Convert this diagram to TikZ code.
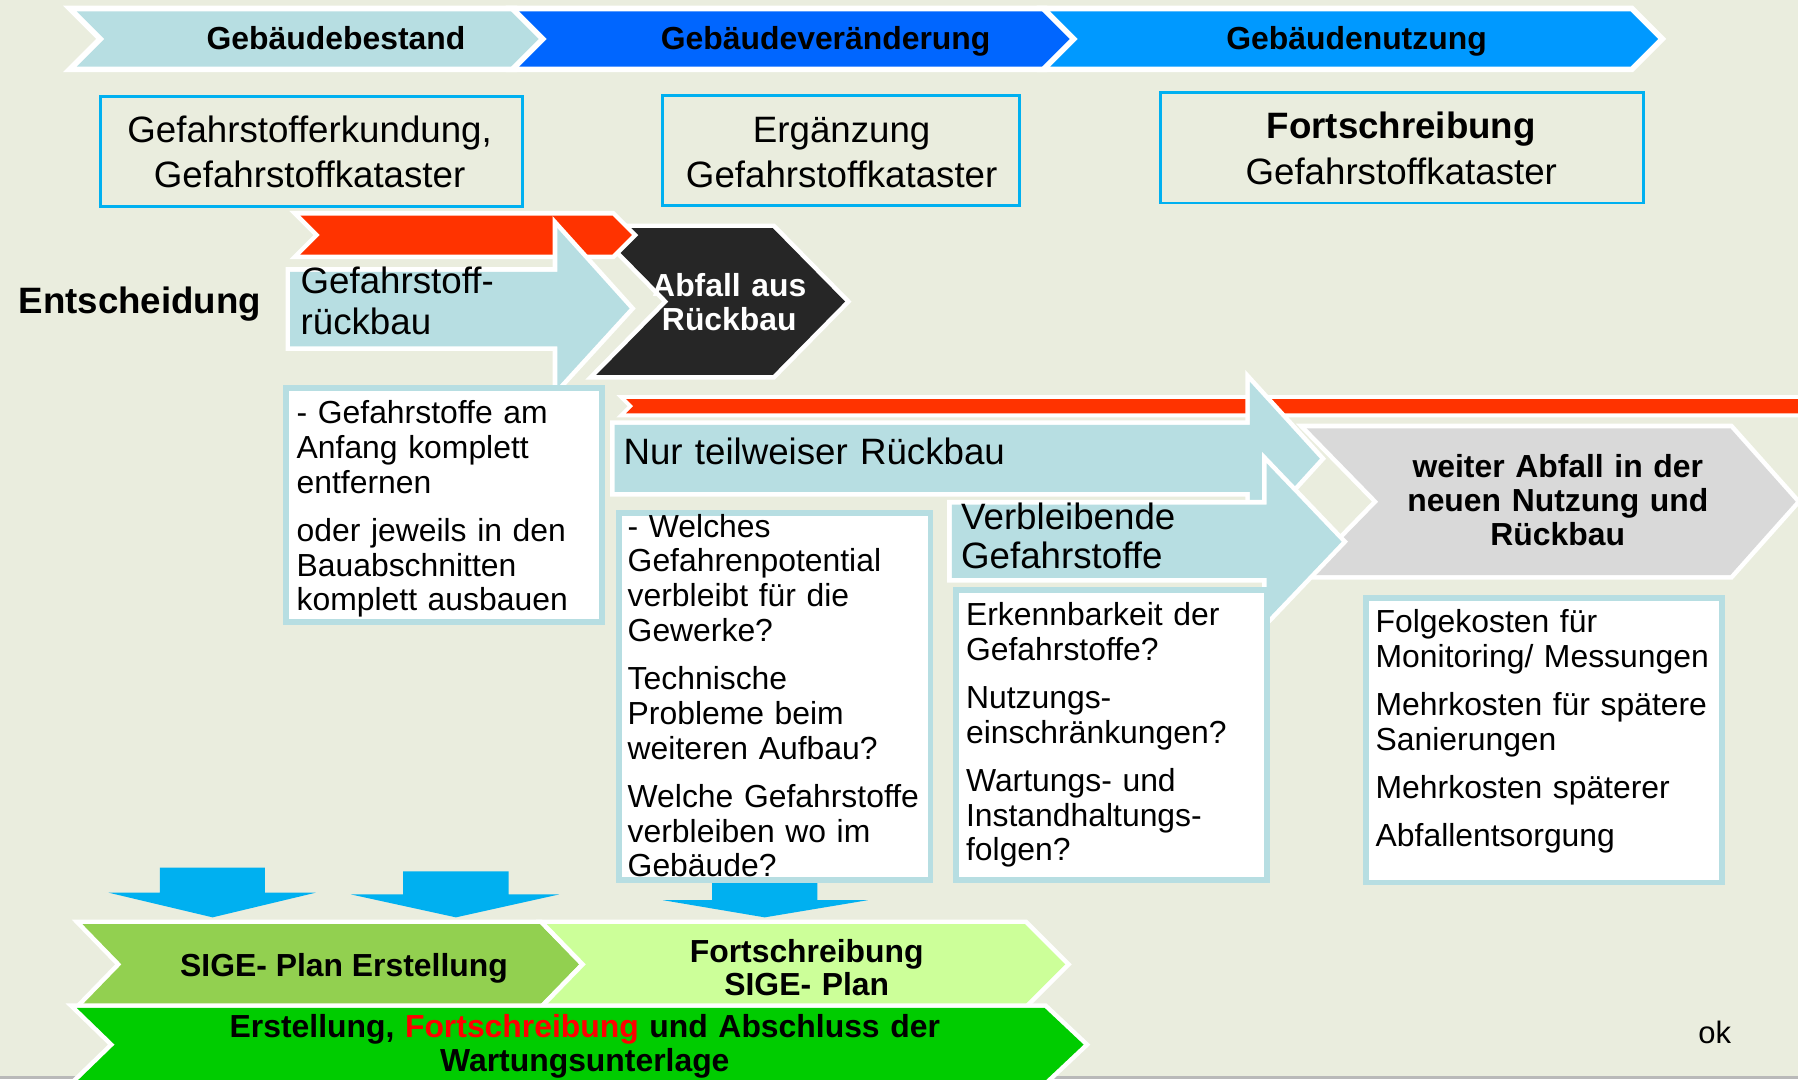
\documentclass[tikz,border=0pt]{standalone}
\usepackage{fontspec}
\setmainfont{Liberation Sans}
\definecolor{bg}{RGB}{234,237,222}
\definecolor{lblue}{RGB}{183,222,226}
\definecolor{cblue}{RGB}{0,102,255}
\definecolor{sblue}{RGB}{0,153,255}
\definecolor{redbar}{RGB}{255,51,0}
\definecolor{dark}{RGB}{38,38,38}
\definecolor{grayc}{RGB}{217,217,217}
\definecolor{greenA}{RGB}{146,208,80}
\definecolor{greenB}{RGB}{204,255,153}
\definecolor{greenC}{RGB}{0,204,0}
\definecolor{arrblue}{RGB}{0,176,240}
\definecolor{framec}{RGB}{0,176,240}
\definecolor{redtext}{RGB}{255,0,0}
\tikzset{
  wsh/.style={preaction={draw=white,line width=#1}},
  wsh/.default=8,
  topbox/.style={draw=framec,line width=2.5},
  txtbox/.style={draw=lblue,line width=5,fill=white},
  ltext/.style={inner sep=0pt,anchor=base west,text width=#1,align=left},
  ltext/.default=420,
  ctext/.style={inner sep=0pt,anchor=base,text width=#1,align=center},
  ctext/.default=420,
  fbig/.style={font=\fontsize{32}{39.3}\selectfont},
  fmid/.style={font=\fontsize{27.8}{30.3}\selectfont},
  fmidb/.style={font=\bfseries\fontsize{27.8}{29.8}\selectfont},
}
\begin{document}
\begin{tikzpicture}[x=1pt,y=-1pt]
\useasboundingbox (0,0) rectangle (1568,941);
\clip (0,0) rectangle (1568,941);
\fill[bg] (0,0) rectangle (1568,941);
\fill[gray!55] (0,938.5) rectangle (1568,941);

% top phase chevrons
\path[wsh=10,fill=lblue] (67,10) -- (449,10) -- (474,34) -- (449,58) -- (67,58) -- (91,34) -- cycle;
\path[wsh=10,fill=cblue] (453,10) -- (911,10) -- (935,34) -- (911,58) -- (453,58) -- (477,34) -- cycle;
\path[wsh=10,fill=sblue] (916,10) -- (1422,10) -- (1446,34) -- (1422,58) -- (916,58) -- (940,34) -- cycle;
\node[inner sep=0pt,anchor=base,fmidb] (p1) at (293,43) {Gebäudebestand};
\node[inner sep=0pt,anchor=base,fmidb] (p2) at (720,43) {Gebäudeveränderung};
\node[inner sep=0pt,anchor=base,fmidb] (p3) at (1183,43) {Gebäudenutzung};

% top boxes
\draw[topbox] (88,84) rectangle (456,180);
\draw[topbox] (578,83) rectangle (889,179);
\draw[topbox] (1012,81) rectangle (1433,177);
\node[ctext=400,fbig] (t1) at (270,124) {Gefahrstofferkundung,\\Gefahrstoffkataster};
\node[ctext=400,fbig] (t2) at (734,124) {Ergänzung\\Gefahrstoffkataster};
\node[ctext=400,fbig] (t3) at (1222,121.2) {\textbf{Fortschreibung}\\Gefahrstoffkataster};

\node[inner sep=0pt,anchor=base west,font=\bfseries\fontsize{32}{38}\selectfont] (ent) at (16,273) {Entscheidung};

% decision: full removal
\path[wsh=8,fill=dark] (520,199) -- (674,199) -- (737,263) -- (674,327) -- (520,327) -- (583,263) -- cycle;
\path[wsh=8,fill=redbar] (262,188) -- (534,188) -- (551,205) -- (534,222) -- (262,222) -- (279,205) -- cycle;
\path[wsh=8,fill=lblue] (253,237) -- (486,237) -- (486,199) -- (549,269) -- (486,338) -- (486,302) -- (253,302) -- cycle;
\node[ltext=250,font=\fontsize{32}{36}\selectfont] (gr) at (262,256) {Gefahrstoff-\\rückbau};
\node[ctext=200,font=\bfseries\fontsize{27.8}{29.5}\selectfont,text=white] (ab) at (636,258.5) {Abfall aus\\Rückbau};

\draw[txtbox] (249.7,338.2) rectangle (525,542.5);
\node[ltext,fmid] (ta) at (258.5,369.5) {- Gefahrstoffe am\\Anfang komplett\\entfernen\\[11.7pt]oder jeweils in den\\Bauabschnitten\\komplett ausbauen};

% partial removal
\path[wsh=7,fill=redbar] (546,348) -- (1580,348) -- (1580,360.5) -- (546,360.5) -- (552.3,354.2) -- cycle;
\path[wsh=8,fill=grayc] (1139.5,373.5) -- (1509,373.5) -- (1566,437.5) -- (1509,501.5) -- (1139.5,501.5) -- (1202,437.5) -- cycle;
\path[wsh=8,fill=lblue] (536,370.6) -- (1090,370.6) -- (1090,333) -- (1151,400) -- (1090,467) -- (1090,429) -- (536,429) -- cycle;
\path[wsh=8,fill=lblue] (830,440) -- (1104.6,440) -- (1104.6,404) -- (1170,472.4) -- (1104.6,541) -- (1104.6,504) -- (830,504) -- cycle;
\node[ltext=500,font=\fontsize{32}{38}\selectfont] (nt) at (543.6,405) {Nur teilweiser Rückbau};
\node[ltext=260,font=\fontsize{32}{34}\selectfont] (vg) at (838,461.5) {Verbleibende\\Gefahrstoffe};
\node[ctext=340,fmidb] (wa) at (1358.5,416) {weiter Abfall in der\\neuen Nutzung und\\Rückbau};

% down arrows
\fill[arrblue] (139.5,756.7) -- (231,756.7) -- (231,778.5) -- (275.3,778.5) -- (185.4,800) -- (94.8,778.5) -- (139.5,778.5) -- cycle;
\fill[arrblue] (351.6,760) -- (443.5,760) -- (443.5,780) -- (487.6,780) -- (397.6,800) -- (306,780) -- (351.6,780) -- cycle;
\fill[arrblue] (621,760) -- (712.7,760) -- (712.7,785) -- (756.8,785) -- (666.8,800) -- (578,785) -- (621,785) -- cycle;

% question boxes
\draw[txtbox] (539.7,447.5) rectangle (811.5,767.5);
\node[ltext,fmid] (tw) at (547.2,468.5) {- Welches\\Gefahrenpotential\\verbleibt für die\\Gewerke?\\[11.7pt]Technische\\Probleme beim\\weiteren Aufbau?\\[11.7pt]Welche Gefahrstoffe\\verbleiben wo im\\Gebäude?};
\draw[txtbox] (833.5,514.5) rectangle (1105,767.5);
\node[ltext,fmid] (te) at (842.3,545.5) {Erkennbarkeit der\\Gefahrstoffe?\\[11.7pt]Nutzungs-\\einschränkungen?\\[11.7pt]Wartungs- und\\Instandhaltungs-\\folgen?};
\draw[txtbox] (1191,521.5) rectangle (1501.5,769.5);
\node[ltext,fmid] (tf) at (1199.5,552) {Folgekosten für\\Monitoring/ Messungen\\[11.7pt]Mehrkosten für spätere\\Sanierungen\\[11.7pt]Mehrkosten späterer\\[11.7pt]Abfallentsorgung};

% bottom chevrons
\path[wsh=8,fill=greenA] (72,806) -- (471,806) -- (505,841) -- (471,876) -- (72,876) -- (106,841) -- cycle;
\path[wsh=8,fill=greenB] (477,806) -- (894,806) -- (929,841) -- (894,876) -- (477,876) -- (511,841) -- cycle;
\path[wsh=8,fill=greenC] (67,879) -- (911,879) -- (945,911) -- (911,943) -- (67,943) -- (100,911) -- cycle;
\node[inner sep=0pt,anchor=base,fmidb] (sg) at (300,852) {SIGE- Plan Erstellung};
\node[ctext=360,font=\bfseries\fontsize{27.8}{29}\selectfont] (fs) at (703.5,839) {Fortschreibung\\SIGE- Plan};
\node[ctext=800,font=\bfseries\fontsize{27.8}{30}\selectfont] (ew) at (510,904.5) {Erstellung, \textcolor{redtext}{Fortschreibung} und Abschluss der\\Wartungsunterlage};

\node[inner sep=0pt,anchor=base west,font=\fontsize{27}{30}\selectfont] (ok) at (1481,909.8) {ok};
\end{tikzpicture}
\end{document}
